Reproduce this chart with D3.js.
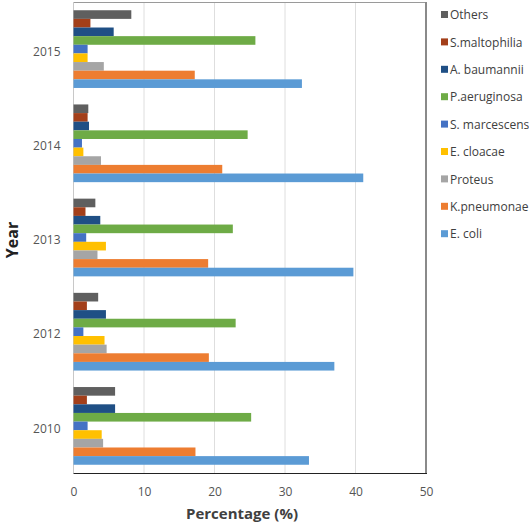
<!DOCTYPE html>
<html>
<head>
<meta charset="utf-8">
<script src="https://cdn.jsdelivr.net/npm/d3@7"></script>
<style>
  html, body { margin: 0; padding: 0; background: #fff; }
  svg { display: block; }
</style>
</head>
<body>
<svg id="chart" width="529" height="526"></svg>
<script>
// Years, top to bottom
const years = ["2015", "2014", "2013", "2012", "2010"];
// Series in order top to bottom within each group (and legend order)
const seriesNames = ["Others", "S.maltophilia", "A. baumannii", "P.aeruginosa", "S. marcescens", "E. cloacae", "Proteus", "K.pneumonae", "E. coli"];
const seriesColors = ["#5f5f5f", "#a33f1a", "#1f4f85", "#6eab46", "#4472c4", "#ffc000", "#a5a5a5", "#ed7d31", "#5b9bd5"];
// Values per series, aligned with years
const others       = [8.2, 2.1, 3.1, 3.5, 5.9];
const sMaltophilia = [2.4, 2.0, 1.7, 1.9, 1.9];
const aBaumannii   = [5.7, 2.2, 3.8, 4.6, 5.9];
const pAeruginosa  = [25.8, 24.7, 22.6, 23.0, 25.2];
const sMarcescens  = [2.0, 1.2, 1.8, 1.4, 2.0];
const eCloacae     = [2.0, 1.4, 4.6, 4.4, 4.0];
const proteus      = [4.3, 3.9, 3.4, 4.7, 4.2];
const kPneumonae   = [17.2, 21.1, 19.1, 19.2, 17.3];
const eColi        = [32.4, 41.1, 39.7, 37.0, 33.4];
const xTicks = [0, 10, 20, 30, 40, 50];

const seriesValues = [others, sMaltophilia, aBaumannii, pAeruginosa, sMarcescens, eCloacae, proteus, kPneumonae, eColi];

const svg = d3.select("#chart");
const pLeft = 73.5, pRight = 426, pTop = 2, pBottom = 473;

const x = d3.scaleLinear().domain([0, 50]).range([pLeft, pRight]);
const y0 = d3.scaleBand().domain(years).range([pTop, pBottom]).paddingInner(0.175).paddingOuter(0.0875);
const y1 = d3.scaleBand().domain(seriesNames).range([0, y0.bandwidth()]).padding(0);

// gridlines
svg.append("g").selectAll("line").data(xTicks.slice(1, -1)).join("line")
  .attr("x1", d => x(d)).attr("x2", d => x(d))
  .attr("y1", pTop).attr("y2", pBottom)
  .attr("stroke", "#dedede").attr("stroke-width", 1);

// frame top and left
svg.append("line").attr("x1", pLeft).attr("x2", pRight).attr("y1", pTop + 0.5).attr("y2", pTop + 0.5)
  .attr("stroke", "#9a9a9a").attr("stroke-width", 1);
svg.append("line").attr("x1", pLeft).attr("x2", pLeft).attr("y1", pTop).attr("y2", pBottom)
  .attr("stroke", "#c8c8c8").attr("stroke-width", 1);

// bars
const groups = svg.append("g").selectAll("g").data(years).join("g")
  .attr("transform", d => `translate(0,${y0(d)})`);
groups.selectAll("rect")
  .data((yr, i) => seriesNames.map((s, j) => ({ s, j, v: seriesValues[j][i] })))
  .join("rect")
  .attr("x", x(0))
  .attr("y", d => y1(d.s))
  .attr("width", d => x(d.v) - x(0))
  .attr("height", y1.bandwidth())
  .attr("fill", d => seriesColors[d.j]);

// right frame & bottom axis
svg.append("line").attr("x1", pRight).attr("x2", pRight).attr("y1", pTop).attr("y2", pBottom)
  .attr("stroke", "#8a8a8a").attr("stroke-width", 2);
svg.append("line").attr("x1", pLeft).attr("x2", pRight + 1).attr("y1", pBottom + 0.5).attr("y2", pBottom + 0.5)
  .attr("stroke", "#222").attr("stroke-width", 1);

// x axis
const xAxis = svg.append("g").attr("transform", `translate(0,${pBottom})`)
  .call(d3.axisBottom(x).tickValues(xTicks).tickSize(0).tickPadding(14));
xAxis.select(".domain").remove();
xAxis.selectAll("text").attr("font-family", "Open Sans, sans-serif").attr("font-size", 12).attr("fill", "#555");

// y axis
const yAxis = svg.append("g").attr("transform", `translate(${pLeft},0)`)
  .call(d3.axisLeft(y0).tickSize(0).tickPadding(13));
yAxis.select(".domain").remove();
yAxis.selectAll("text").attr("font-family", "Open Sans, sans-serif").attr("font-size", 12).attr("fill", "#555")
  .attr("dy", "0.55em");

// axis titles
svg.append("text").attr("x", 242).attr("y", 519).attr("text-anchor", "middle")
  .attr("font-family", "Open Sans, sans-serif").attr("font-weight", "bold").attr("font-size", 15)
  .attr("fill", "#404040").text("Percentage (%)");
svg.append("text").attr("transform", "translate(18,240) rotate(-90)").attr("text-anchor", "middle")
  .attr("font-family", "Open Sans, sans-serif").attr("font-weight", "bold").attr("font-size", 16)
  .attr("fill", "#222").text("Year");

// legend
const legend = svg.append("g").selectAll("g").data(seriesNames).join("g")
  .attr("transform", (d, i) => `translate(441,${15 + i * 27.4})`);
legend.append("rect").attr("x", 0).attr("y", -4).attr("width", 7).attr("height", 7)
  .attr("fill", (d, i) => seriesColors[i]);
legend.append("text").attr("x", 9).attr("y", 0).attr("dy", "0.35em")
  .attr("font-family", "Open Sans, sans-serif").attr("font-size", 12).attr("fill", "#404040")
  .text(d => d);
</script>
</body>
</html>
